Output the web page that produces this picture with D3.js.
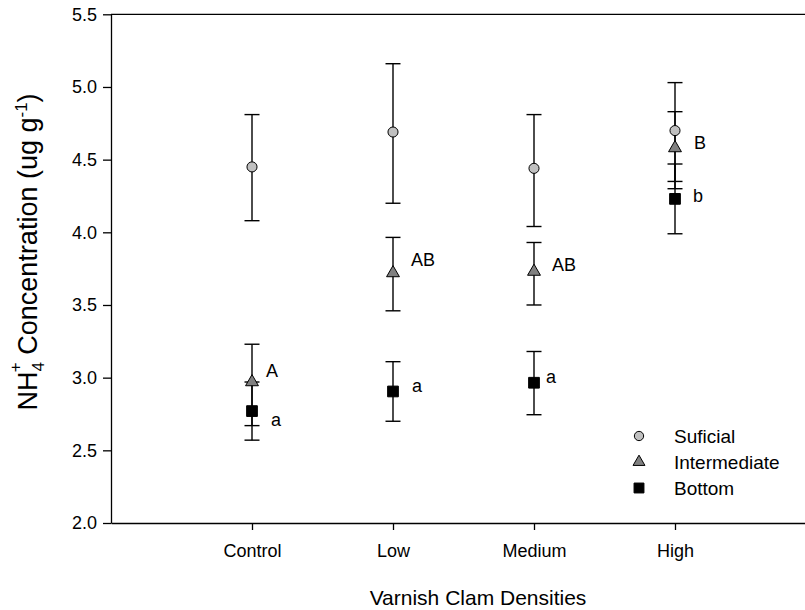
<!DOCTYPE html>
<html>
<head>
<meta charset="utf-8">
<script src="https://cdn.jsdelivr.net/npm/d3@7"></script>
<style>
  body { margin: 0; background: #fff; }
  text { font-family: "Liberation Sans", Arial, sans-serif; fill: #000; }
</style>
</head>
<body>
<script>
// Categories and series
var densities = ["Control", "Low", "Medium", "High"];
var layers = ["Suficial", "Intermediate", "Bottom"];

var suficialMean = [4.45, 4.69, 4.44, 4.70];
var suficialUpper = [4.81, 5.16, 4.81, 5.03];
var suficialLower = [4.08, 4.20, 4.04, 4.35];

var intermediateMean = [2.97, 3.72, 3.73, 4.58];
var intermediateUpper = [3.23, 3.965, 3.93, 4.83];
var intermediateLower = [2.67, 3.46, 3.50, 4.30];

var bottomMean = [2.77, 2.905, 2.965, 4.23];
var bottomUpper = [2.97, 3.11, 3.18, 4.47];
var bottomLower = [2.57, 2.70, 2.745, 3.99];

var intermediateLetters = ["A", "AB", "AB", "B"];
var bottomLetters = ["a", "a", "a", "b"];

var yTicks = [2.0, 2.5, 3.0, 3.5, 4.0, 4.5, 5.0, 5.5];

var W = 805, H = 610;
var margin = { left: 111, top: 14.3, bottom: 523, right: 816 };

var svg = d3.select("body").append("svg")
  .attr("width", W)
  .attr("height", H);

var x = d3.scalePoint()
  .domain(densities)
  .range([margin.left, margin.right])
  .padding(1);

var y = d3.scaleLinear()
  .domain([2.0, 5.5])
  .range([margin.bottom, margin.top]);

//Build one record per series so we can loop over them
function series(name, mean, upper, lower, letters) {
  return densities.map(function(d, i) {
    return { layer: name, cat: d, mean: mean[i], hi: upper[i], lo: lower[i],
             letter: letters ? letters[i] : null };
  });
}
var allSeries = [
  series("Bottom", bottomMean, bottomUpper, bottomLower, bottomLetters),
  series("Intermediate", intermediateMean, intermediateUpper, intermediateLower, intermediateLetters),
  series("Suficial", suficialMean, suficialUpper, suficialLower, null)
];

var symbolType = { Suficial: d3.symbolCircle, Intermediate: d3.symbolTriangle, Bottom: d3.symbolSquare };
var symbolSize = { Suficial: 80, Intermediate: 72, Bottom: 115 };
var symbolFill = { Suficial: "#c0c0c0", Intermediate: "#808080", Bottom: "#000000" };

//Axes
svg.append("g")
  .attr("transform", "translate(" + margin.left + ",0)")
  .call(d3.axisLeft(y).tickValues(yTicks).tickFormat(d3.format(".1f")).tickSize(8).tickSizeOuter(0).tickPadding(6))
  .call(function(g) {
    g.select(".domain").attr("stroke-width", 1.3);
    g.selectAll(".tick line").attr("stroke-width", 1.3);
    g.selectAll("text").attr("font-size", 18).style("font-family", "'Liberation Sans', Arial, sans-serif");
  });

svg.append("g")
  .attr("transform", "translate(0," + margin.bottom + ")")
  .call(d3.axisBottom(x).tickSize(7).tickSizeOuter(0).tickPadding(14))
  .call(function(g) {
    g.select(".domain").attr("stroke-width", 1.3);
    g.selectAll(".tick line").attr("stroke-width", 1.3);
    g.selectAll("text").attr("font-size", 18).style("font-family", "'Liberation Sans', Arial, sans-serif");
  });

//Top frame line
svg.append("line")
  .attr("x1", margin.left).attr("x2", margin.right)
  .attr("y1", y(5.5)).attr("y2", y(5.5))
  .attr("stroke", "#000").attr("stroke-width", 1.3);

//Error bars and markers
var cap = 7.5;
allSeries.forEach(function(s) {
  var g = svg.append("g").attr("class", "series");
  var bars = g.selectAll(".err").data(s).enter().append("g").attr("class", "err");
  bars.append("line")
    .attr("x1", function(d) { return x(d.cat); })
    .attr("x2", function(d) { return x(d.cat); })
    .attr("y1", function(d) { return y(d.hi); })
    .attr("y2", function(d) { return y(d.lo); })
    .attr("stroke", "#000").attr("stroke-width", 1.4);
  ["hi", "lo"].forEach(function(k) {
    bars.append("line")
      .attr("x1", function(d) { return x(d.cat) - cap; })
      .attr("x2", function(d) { return x(d.cat) + cap; })
      .attr("y1", function(d) { return y(d[k]); })
      .attr("y2", function(d) { return y(d[k]); })
      .attr("stroke", "#000").attr("stroke-width", 1.4);
  });
});

allSeries.forEach(function(s) {
  svg.selectAll(null).data(s).enter().append("path")
    .attr("transform", function(d) { return "translate(" + x(d.cat) + "," + y(d.mean) + ")"; })
    .attr("d", function(d) { return d3.symbol().type(symbolType[d.layer]).size(symbolSize[d.layer])(); })
    .attr("fill", function(d) { return symbolFill[d.layer]; })
    .attr("stroke", "#000").attr("stroke-width", 1);
});

//Significance letters, nudged next to their markers
var letterOffset = {
  Intermediate: [[14, -5], [18, -7], [18, -1], [19, 1]],
  Bottom: [[19, 15], [19, 1], [12, 0], [18, 3]]
};
allSeries.forEach(function(s) {
  s.forEach(function(d, i) {
    if (!d.letter) return;
    var off = letterOffset[d.layer][i];
    svg.append("text")
      .attr("x", x(d.cat) + off[0])
      .attr("y", y(d.mean) + off[1])
      .attr("font-size", 18)
      .text(d.letter);
  });
});

//Legend
var legendKeys = ["Suficial", "Intermediate", "Bottom"];
var legend = svg.append("g").attr("transform", "translate(639,436)");
legendKeys.forEach(function(key, i) {
  legend.append("path")
    .attr("transform", "translate(0," + (i * 26) + ")")
    .attr("d", d3.symbol().type(symbolType[key]).size(symbolSize[key] * 0.85)())
    .attr("fill", symbolFill[key])
    .attr("stroke", "#000").attr("stroke-width", 1);
  legend.append("text")
    .attr("x", 35)
    .attr("y", i * 26)
    .attr("dy", "0.35em")
    .attr("font-size", 19)
    .text(layers[i]);
});

//Axis titles
svg.append("text")
  .attr("x", 478)
  .attr("y", 605)
  .attr("text-anchor", "middle")
  .attr("font-size", 21)
  .text("Varnish Clam Densities");

var yTitle = svg.append("text")
  .attr("transform", "translate(37,252) rotate(-90)")
  .attr("text-anchor", "middle")
  .attr("font-size", 27);
yTitle.append("tspan").text("NH");
yTitle.append("tspan").attr("font-size", 17).attr("dy", 7).text("4");
yTitle.append("tspan").attr("font-size", 17).attr("dx", -10).attr("dy", -23).text("+");
yTitle.append("tspan").attr("dy", 16).text(" Concentration (ug g");
yTitle.append("tspan").attr("font-size", 17).attr("dy", -10).text("-1");
yTitle.append("tspan").attr("dy", 10).text(")");
</script>
</body>
</html>
